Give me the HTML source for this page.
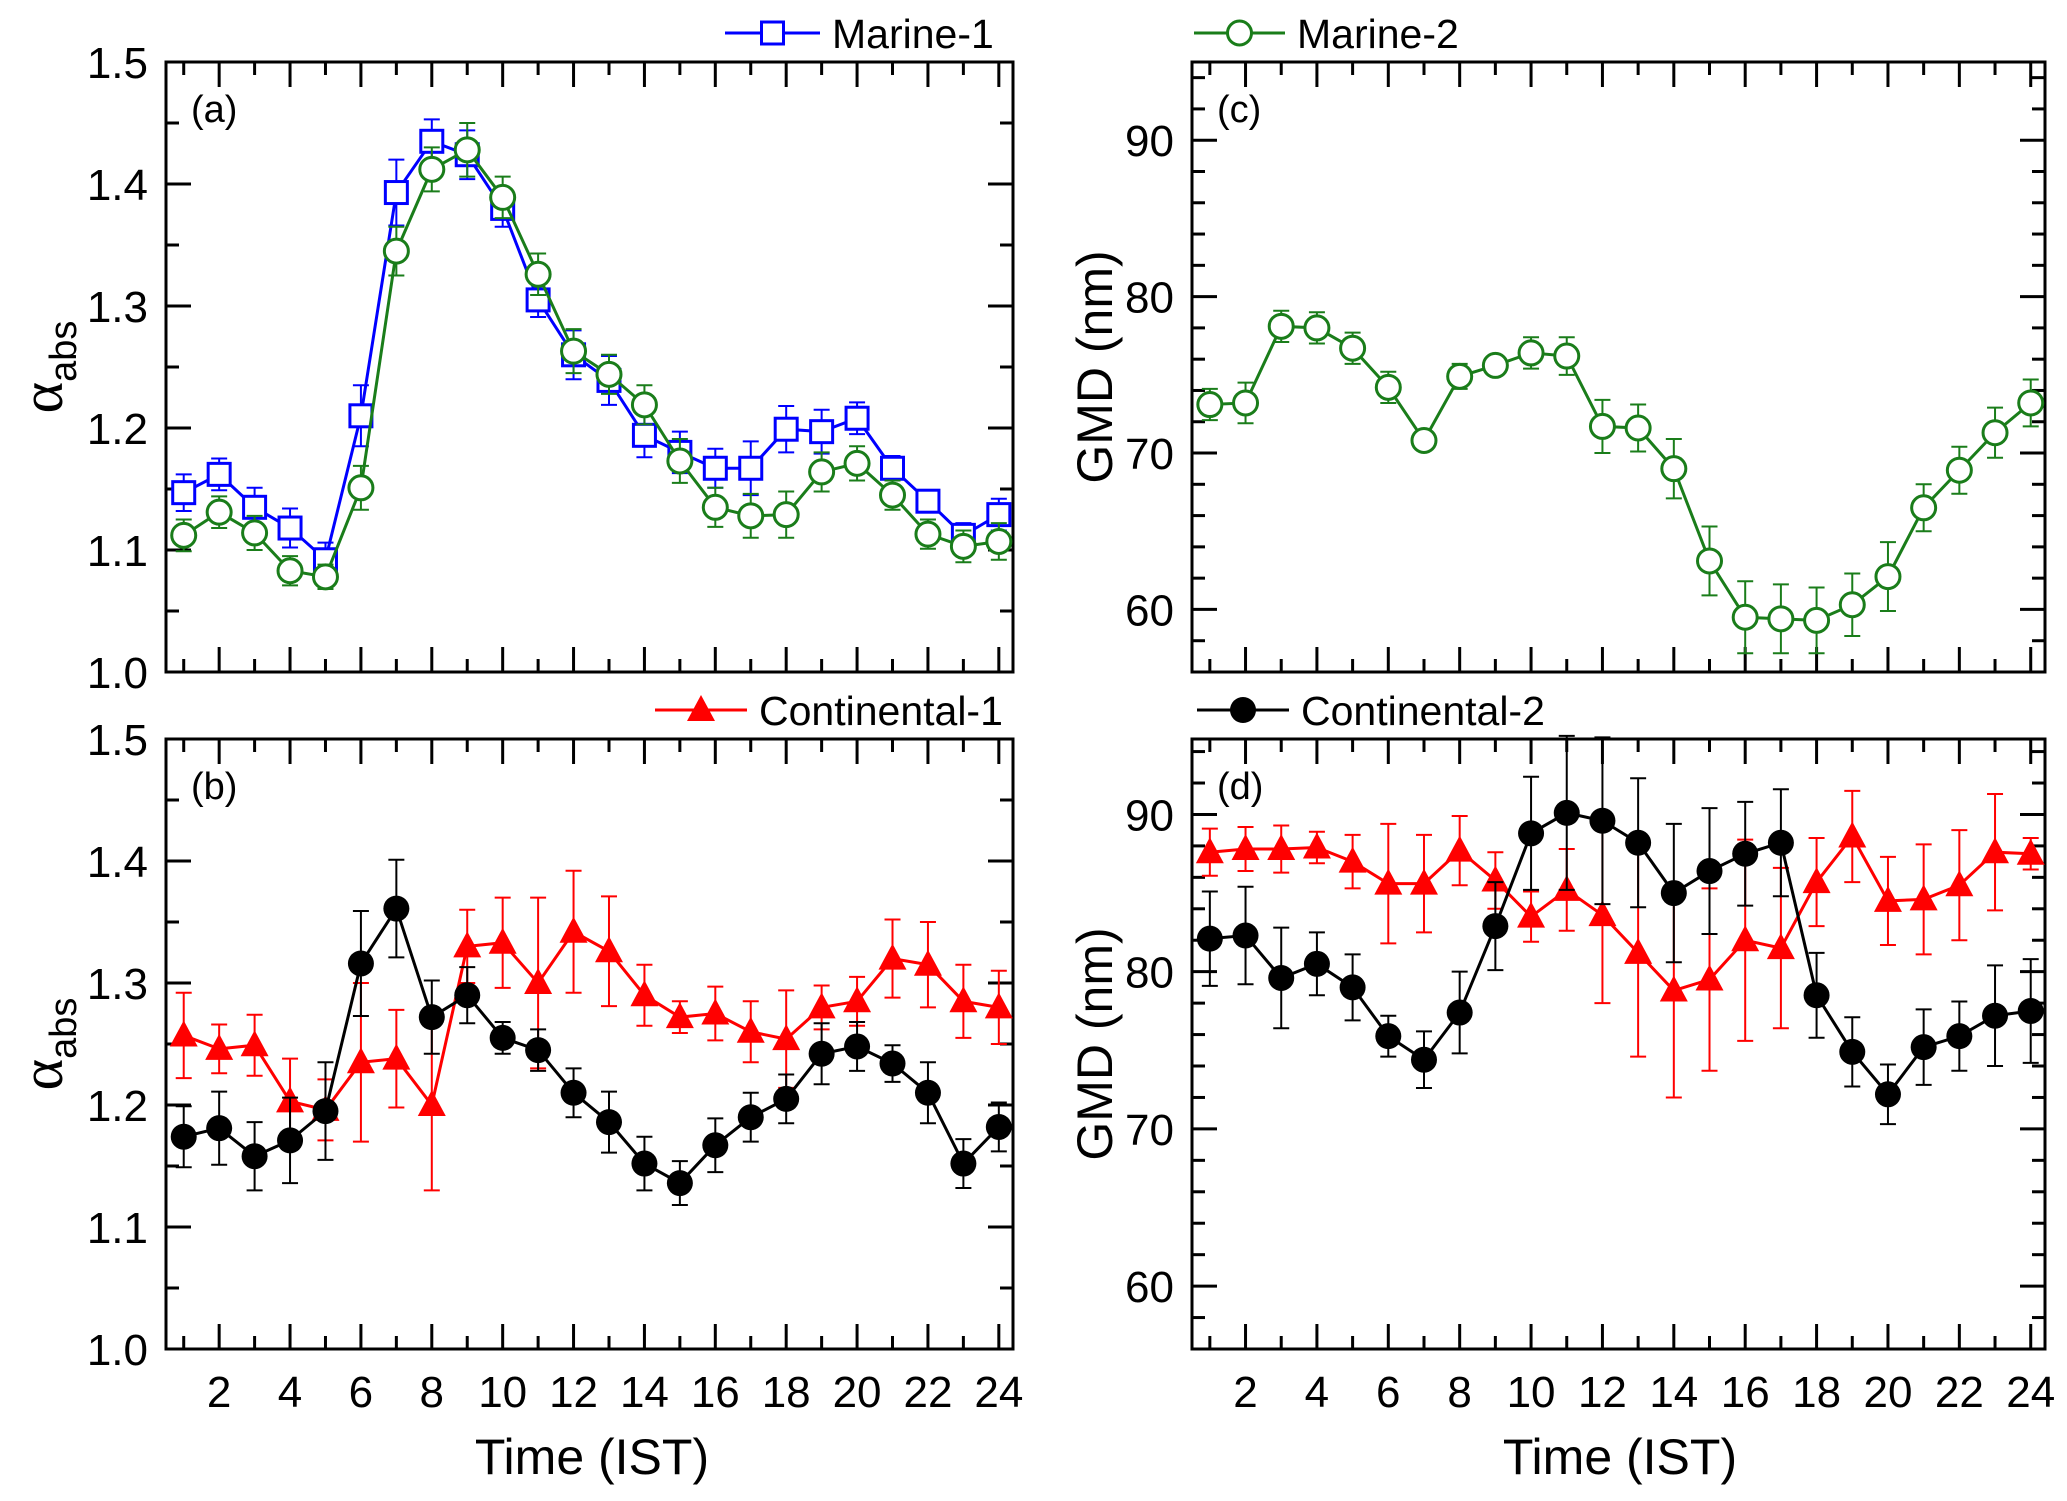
<!DOCTYPE html>
<html><head><meta charset="utf-8"><style>
html,body{margin:0;padding:0;background:#fff;}
svg{display:block;font-family:"Liberation Sans",sans-serif;}
</style></head><body>
<svg id="fig" width="2067" height="1501" viewBox="0 0 2067 1501" xmlns="http://www.w3.org/2000/svg"></svg>
<script>
const hours=[1,2,3,4,5,6,7,8,9,10,11,12,13,14,15,16,17,18,19,20,21,22,23,24];
const xTicks=[2,4,6,8,10,12,14,16,18,20,22,24];
const alphaTicks=[1.0,1.1,1.2,1.3,1.4,1.5];
const gmdTicks=[60,70,80,90];
const marine1Alpha=[1.147,1.162,1.135,1.118,1.092,1.21,1.393,1.435,1.424,1.38,1.305,1.26,1.239,1.194,1.18,1.167,1.167,1.199,1.197,1.208,1.167,1.14,1.112,1.129];
const marine1AlphaErr=[0.015,0.013,0.016,0.016,0.014,0.025,0.027,0.018,0.02,0.015,0.014,0.02,0.02,0.018,0.017,0.016,0.022,0.019,0.018,0.013,0.01,0.008,0.01,0.013];
const marine2Alpha=[1.112,1.131,1.114,1.083,1.078,1.151,1.345,1.412,1.428,1.389,1.326,1.263,1.244,1.219,1.173,1.135,1.128,1.129,1.164,1.171,1.145,1.113,1.103,1.107];
const marine2AlphaErr=[0.013,0.013,0.014,0.012,0.01,0.018,0.02,0.018,0.022,0.017,0.017,0.018,0.016,0.016,0.018,0.016,0.018,0.019,0.016,0.014,0.012,0.012,0.013,0.015];
const cont1Alpha=[1.257,1.246,1.249,1.203,1.196,1.235,1.238,1.2,1.33,1.333,1.3,1.342,1.326,1.29,1.272,1.275,1.26,1.254,1.28,1.285,1.32,1.315,1.285,1.28];
const cont1AlphaErr=[0.035,0.02,0.025,0.035,0.025,0.065,0.04,0.07,0.03,0.037,0.07,0.05,0.045,0.025,0.013,0.022,0.025,0.04,0.018,0.02,0.032,0.035,0.03,0.03];
const cont2Alpha=[1.174,1.181,1.158,1.171,1.195,1.316,1.361,1.272,1.29,1.255,1.245,1.21,1.186,1.152,1.136,1.167,1.19,1.205,1.242,1.248,1.234,1.21,1.152,1.182];
const cont2AlphaErr=[0.025,0.03,0.028,0.035,0.04,0.043,0.04,0.03,0.023,0.013,0.017,0.02,0.025,0.022,0.018,0.022,0.02,0.02,0.025,0.02,0.015,0.025,0.02,0.02];
const marine2Gmd=[73.1,73.2,78.1,78,76.7,74.2,70.8,74.9,75.6,76.4,76.2,71.7,71.6,69,63.1,59.5,59.4,59.3,60.3,62.1,66.5,68.9,71.3,73.2];
const marine2GmdErr=[1,1.3,1,1,1,1,0.6,0.8,0.6,1,1.2,1.7,1.5,1.9,2.2,2.3,2.2,2.1,2,2.2,1.5,1.5,1.6,1.5];
const cont1Gmd=[87.6,87.8,87.8,87.9,87.0,85.6,85.6,87.7,85.8,83.5,85.2,83.6,81.2,78.8,79.5,82,81.5,85.7,88.6,84.5,84.6,85.5,87.6,87.5];
const cont1GmdErr=[1.5,1.4,1.5,1,1.7,3.8,3.1,2.2,1.8,1.6,2.6,5.6,6.6,6.8,5.8,6.4,5.1,2.8,2.9,2.8,3.5,3.5,3.7,1];
const cont2Gmd=[82.1,82.3,79.6,80.5,79,75.9,74.4,77.4,82.9,88.8,90.1,89.6,88.2,85,86.4,87.5,88.2,78.5,74.9,72.2,75.2,75.9,77.2,77.5];
const cont2GmdErr=[3,3.1,3.2,2,2.1,1.3,1.8,2.6,2.8,3.6,4.9,5.3,4.1,4.4,4,3.3,3.4,2.7,2.2,1.9,2.4,2.2,3.2,3.3];

const NS="http://www.w3.org/2000/svg";
const svg=document.getElementById('fig');
function el(tag,attrs,parent){const e=document.createElementNS(NS,tag);for(const k in attrs)e.setAttribute(k,attrs[k]);(parent||svg).appendChild(e);return e;}

const panels={
 a:{x0:166,x1:1013,y0:62,y1:672,ymin:1.0,ymax:1.5,major:0.1,minor:0.05,ticks:alphaTicks,fmt:v=>v.toFixed(1)},
 b:{x0:166,x1:1013,y0:739,y1:1349,ymin:1.0,ymax:1.5,major:0.1,minor:0.05,ticks:alphaTicks,fmt:v=>v.toFixed(1)},
 c:{x0:1192,x1:2045,y0:62,y1:672,ymin:56,ymax:95,major:10,minor:2,ticks:gmdTicks,fmt:v=>String(v)},
 d:{x0:1192,x1:2045,y0:739,y1:1349,ymin:56,ymax:94.8,major:10,minor:2,ticks:gmdTicks,fmt:v=>String(v)}
};
const XMIN=0.5,XMAX=24.4;
function sx(p,v){return p.x0+(v-XMIN)/(XMAX-XMIN)*(p.x1-p.x0);}
function sy(p,v){return p.y1-(v-p.ymin)/(p.ymax-p.ymin)*(p.y1-p.y0);}

function drawAxes(key,showX){
 const p=panels[key];
 const g=el('g',{});
 
 
 hours.forEach(h=>{
  const x=sx(p,h);const L=(h%2===0)?25:13;
  el('line',{x1:x,y1:p.y1,x2:x,y2:p.y1-L,stroke:'#000','stroke-width':3},g);
  el('line',{x1:x,y1:p.y0,x2:x,y2:p.y0+L,stroke:'#000','stroke-width':3},g);
 });
 const n=Math.round((p.ymax-p.ymin)/p.minor);
 for(let i=0;i<=n+1;i++){
  const v=Math.ceil(p.ymin/p.minor-1e-6)*p.minor+i*p.minor;
  if(v>p.ymax+1e-6)break;
  const isMaj=Math.abs(v/p.major-Math.round(v/p.major))<1e-6;
  const L=isMaj?25:13;const y=sy(p,v);
  el('line',{x1:p.x0,y1:y,x2:p.x0+L,y2:y,stroke:'#000','stroke-width':3},g);
  el('line',{x1:p.x1,y1:y,x2:p.x1-L,y2:y,stroke:'#000','stroke-width':3},g);
 }
 p.ticks.forEach(v=>{
  const t=el('text',{x:p.x0-18,y:sy(p,v)+16,'text-anchor':'end','font-size':44,fill:'#000'},g);
  t.textContent=p.fmt(v);
  
  
 });
 if(showX){
  xTicks.forEach(h=>{
   const t=el('text',{x:sx(p,h),y:p.y1+58,'text-anchor':'middle','font-size':44,fill:'#000'},g);
   t.textContent=String(h);
   
   
  });
 }
 el('rect',{x:p.x0,y:p.y0,width:p.x1-p.x0,height:p.y1-p.y0,fill:'none',stroke:'#000','stroke-width':3},g);
 const lab=el('text',{x:p.x0+25,y:p.y0+60,'font-size':38,fill:'#000'},g);
 lab.textContent='('+key+')';
 
 
}

function marker(g,shape,x,y,color){
 if(shape==='square') el('rect',{x:x-11,y:y-11,width:22,height:22,fill:'#fff',stroke:color,'stroke-width':3},g);
 else if(shape==='ocircle') el('circle',{cx:x,cy:y,r:12,fill:'#fff',stroke:color,'stroke-width':3},g);
 else if(shape==='dot') el('circle',{cx:x,cy:y,r:13,fill:color},g);
 else if(shape==='tri') el('path',{d:`M${x} ${y-15}L${x+14} ${y+11}L${x-14} ${y+11}Z`,fill:color},g);
}

function series(key,name,vals,errs,color,shape){
 const p=panels[key];
 const g=el('g',{});
 
 
 vals.forEach((v,i)=>{
  const x=sx(p,hours[i]);const yt=sy(p,v+errs[i]),yb=sy(p,v-errs[i]);
  el('line',{x1:x,y1:yt,x2:x,y2:yb,stroke:color,'stroke-width':2},g);
  el('line',{x1:x-8,y1:yt,x2:x+8,y2:yt,stroke:color,'stroke-width':2},g);
  el('line',{x1:x-8,y1:yb,x2:x+8,y2:yb,stroke:color,'stroke-width':2},g);
 });
 const pts=vals.map((v,i)=>sx(p,hours[i])+','+sy(p,v)).join(' ');
 el('polyline',{points:pts,fill:'none',stroke:color,'stroke-width':3},g);
 vals.forEach((v,i)=>marker(g,shape,sx(p,hours[i]),sy(p,v),color));
}

function legend(x1,x2,y,text,color,shape,nm){
 const g=el('g',{});
 
 
 el('line',{x1:x1,y1:y,x2:x2,y2:y,stroke:color,'stroke-width':3},g);
 marker(g,shape,(x1+x2)/2,y,color);
 const t=el('text',{x:x2+12,y:y+15,'font-size':41,fill:'#000'},g);
 t.textContent=text;
}

drawAxes('a',false);drawAxes('b',true);drawAxes('c',false);drawAxes('d',true);
series('a','marine-1-alpha-series',marine1Alpha,marine1AlphaErr,'#0000ff','square');
series('a','marine-2-alpha-series',marine2Alpha,marine2AlphaErr,'#1a7d1a','ocircle');
series('b','continental-1-alpha-series',cont1Alpha,cont1AlphaErr,'#ff0000','tri');
series('b','continental-2-alpha-series',cont2Alpha,cont2AlphaErr,'#000000','dot');
series('c','marine-2-gmd-series',marine2Gmd,marine2GmdErr,'#1a7d1a','ocircle');
series('d','continental-1-gmd-series',cont1Gmd,cont1GmdErr,'#ff0000','tri');
series('d','continental-2-gmd-series',cont2Gmd,cont2GmdErr,'#000000','dot');

legend(725,820,33,'Marine-1','#0000ff','square','legend-marine-1');
legend(1194,1285,33,'Marine-2','#1a7d1a','ocircle','legend-marine-2');
legend(655,747,710,'Continental-1','#ff0000','tri','legend-continental-1');
legend(1197,1289,710,'Continental-2','#000000','dot','legend-continental-2');

function ytitle(x,yc,nm,html){
 const t=el('text',{x:0,y:0,'font-size':50,'text-anchor':'middle',transform:`translate(${x},${yc}) rotate(-90)`,fill:'#000'});
 
 
 t.innerHTML=html;
}
ytitle(62,367,'y-axis-title-a','<tspan font-family="Liberation Serif" font-size="60">α</tspan><tspan font-size="38" dy="14">abs</tspan>');
ytitle(62,1044,'y-axis-title-b','<tspan font-family="Liberation Serif" font-size="60">α</tspan><tspan font-size="38" dy="14">abs</tspan>');
ytitle(1112,367,'y-axis-title-c','GMD (nm)');
ytitle(1112,1044,'y-axis-title-d','GMD (nm)');
[[592,'x-axis-title-left'],[1620,'x-axis-title-right']].forEach(([x,nm])=>{
 const t=el('text',{x:x,y:1474,'font-size':50,'text-anchor':'middle',fill:'#000'});
 t.textContent='Time (IST)';
 
 
});
</script>
</body></html>
